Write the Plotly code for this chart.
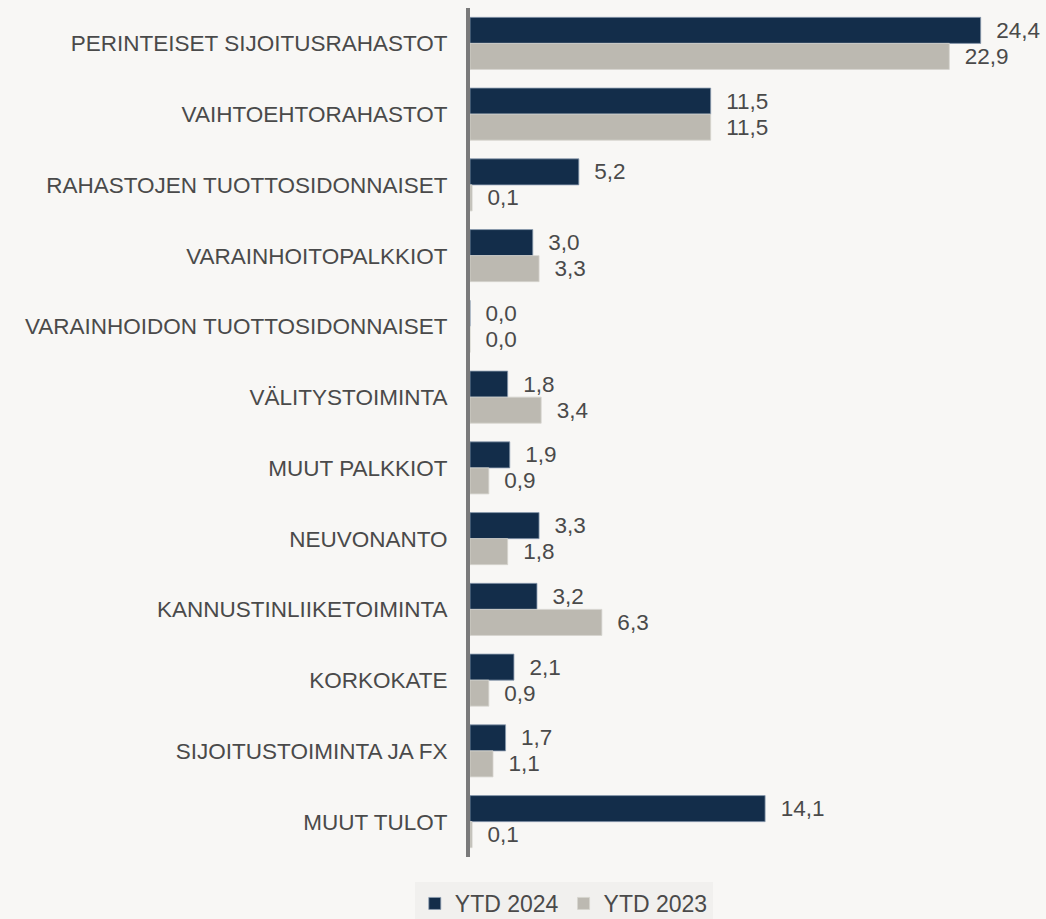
import plotly.graph_objects as go

categories = [
    "PERINTEISET SIJOITUSRAHASTOT",
    "VAIHTOEHTORAHASTOT",
    "RAHASTOJEN TUOTTOSIDONNAISET",
    "VARAINHOITOPALKKIOT",
    "VARAINHOIDON TUOTTOSIDONNAISET",
    "VÄLITYSTOIMINTA",
    "MUUT PALKKIOT",
    "NEUVONANTO",
    "KANNUSTINLIIKETOIMINTA",
    "KORKOKATE",
    "SIJOITUSTOIMINTA JA FX",
    "MUUT TULOT",
]
ytd_2024 = [24.4, 11.5, 5.2, 3.0, 0.0, 1.8, 1.9, 3.3, 3.2, 2.1, 1.7, 14.1]
ytd_2023 = [22.9, 11.5, 0.1, 3.3, 0.0, 3.4, 0.9, 1.8, 6.3, 0.9, 1.1, 0.1]

FONT = "Liberation Sans, Arial, sans-serif"
TXT = "#4a4a4a"
BG = "#f8f7f5"
LBL = "\u00a0\u00a0%{x:.1f}"

fig = go.Figure()
fig.add_trace(go.Bar(
    name="YTD 2024", y=categories, x=ytd_2024, orientation="h",
    marker=dict(color="#132d4a", line=dict(color="#8c9cb0", width=0.8)),
    texttemplate=LBL, textposition="outside", cliponaxis=False,
    constraintext="none",
    textfont=dict(size=22.5, color=TXT, family=FONT),
))
fig.add_trace(go.Bar(
    name="YTD 2023", y=categories, x=ytd_2023, orientation="h",
    marker=dict(color="#bcb9b1", line=dict(color="#d6d4ce", width=0.8)),
    texttemplate=LBL, textposition="outside", cliponaxis=False,
    constraintext="none",
    textfont=dict(size=22.5, color=TXT, family=FONT),
))

fig.update_layout(
    width=1046, height=919,
    barmode="group", bargap=0.264, bargroupgap=0,
    separators=", ",
    paper_bgcolor=BG, plot_bgcolor=BG,
    margin=dict(l=470, r=0, t=8, b=62),
    font=dict(family=FONT, size=22.5, color=TXT),
    showlegend=True,
    legend=dict(
        orientation="h", xref="container", yref="container",
        x=0.539, xanchor="center", y=1 - 882 / 919, yanchor="top",
        bgcolor="#f1f0ee", font=dict(size=23, color=TXT, family=FONT),
        itemwidth=30, traceorder="normal",
    ),
)
fig.update_xaxes(range=[0, 27.52], visible=False, showgrid=False, zeroline=False)
fig.update_yaxes(
    autorange="reversed", showline=True, linecolor="#7a7a7a", linewidth=4,
    showgrid=False, ticks="outside", ticklen=14, tickcolor="rgba(0,0,0,0)",
    tickfont=dict(size=22.5, color=TXT, family=FONT),
)

fig.write_html(
    "out.html",
    config={"displayModeBar": False},
    post_script="document.body.style.margin='0';document.body.style.overflow='hidden';"
                "document.body.style.background='#f8f7f5';",
)
